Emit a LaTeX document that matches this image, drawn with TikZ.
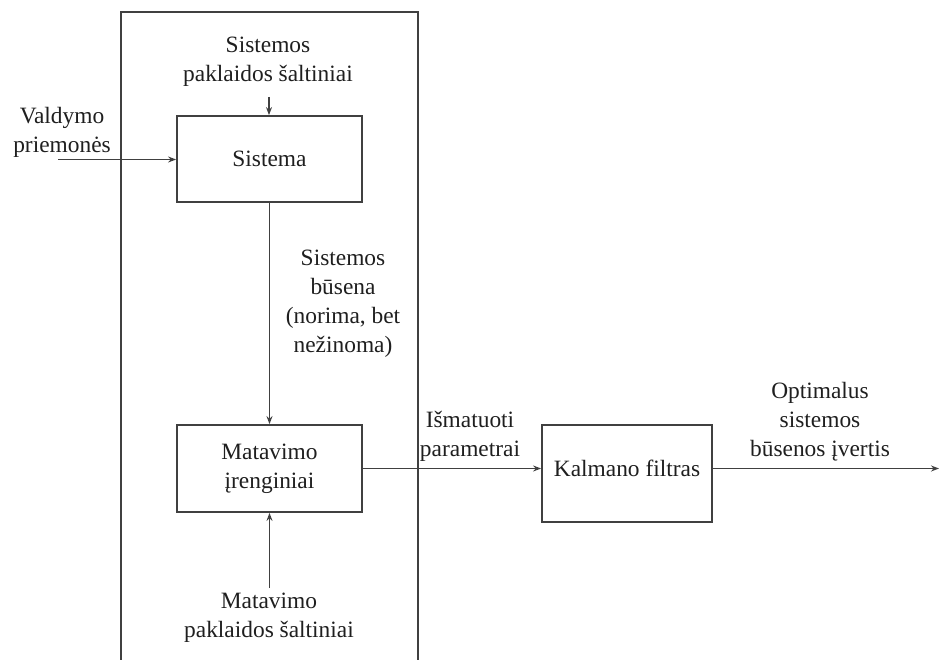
\documentclass[tikz,border=0pt]{standalone}
\usepackage{fontspec}
\setmainfont{Liberation Serif}
\usetikzlibrary{arrows.meta}
\begin{document}
\begin{tikzpicture}[x=1pt,y=-1pt,
  font=\fontsize{23.4}{29}\selectfont,
  ln/.style={draw=black!75, line width=1.8pt},
  blk/.style={ln, rectangle, fill=white, inner sep=0pt, text=black!88},
  lbl/.style={align=center, inner sep=0pt, text=black!88},
  arr/.style={ln, -{Stealth[length=8pt,width=6pt]}}]
  \useasboundingbox (0,0) rectangle (940,660);

  % enclosing frame of the physical system (open at the bottom)
  \draw[ln] (121,662) -- (121,12) -- (418,12) -- (418,662);

  % blocks
  \node[blk, minimum width=185pt, minimum height=86pt] (sys) at (269.5,159) {Sistema};
  \node[blk, minimum width=185pt, minimum height=87pt, align=center] (mat) at (269.5,468.5) {Matavimo\\įrenginiai};
  \node[blk, minimum width=170pt, minimum height=97pt] (kal) at (627,473.5) {};
  \node[lbl] (kaltxt) at (627,468) {Kalmano filtras};

  % labels
  \node[lbl] (noise1) at (268,62) {Sistemos\\paklaidos šaltiniai};
  \node[lbl] (ctrl) at (62,132) {Valdymo\\priemonės};
  \node[lbl] (state) at (343,304) {Sistemos\\būsena\\(norima, bet\\nežinoma)};
  \node[lbl] (noise2) at (269,618) {Matavimo\\paklaidos šaltiniai};
  \node[lbl] (meas) at (470,436) {Išmatuoti\\parametrai};
  \node[lbl] (est) at (820,422) {Optimalus\\sistemos\\būsenos įvertis};

  % connector end points
  \coordinate (n1) at (269,97);
  \coordinate (c0) at (58,159.5);
  \coordinate (n2) at (269.5,588);
  \coordinate (out) at (939,468.5);

  % connectors
  \draw[arr] (n1) -- (n1 |- sys.north);
  \draw[arr] (c0) -- (c0 -| sys.west);
  \draw[arr] (sys.south) -- (mat.north);
  \draw[arr] (n2) -- (mat.south);
  \draw[arr] (mat.east) -- (mat.east -| kal.west);
  \draw[arr] (kal.west |- out) ++(170,0) -- (out);
\end{tikzpicture}
\end{document}
